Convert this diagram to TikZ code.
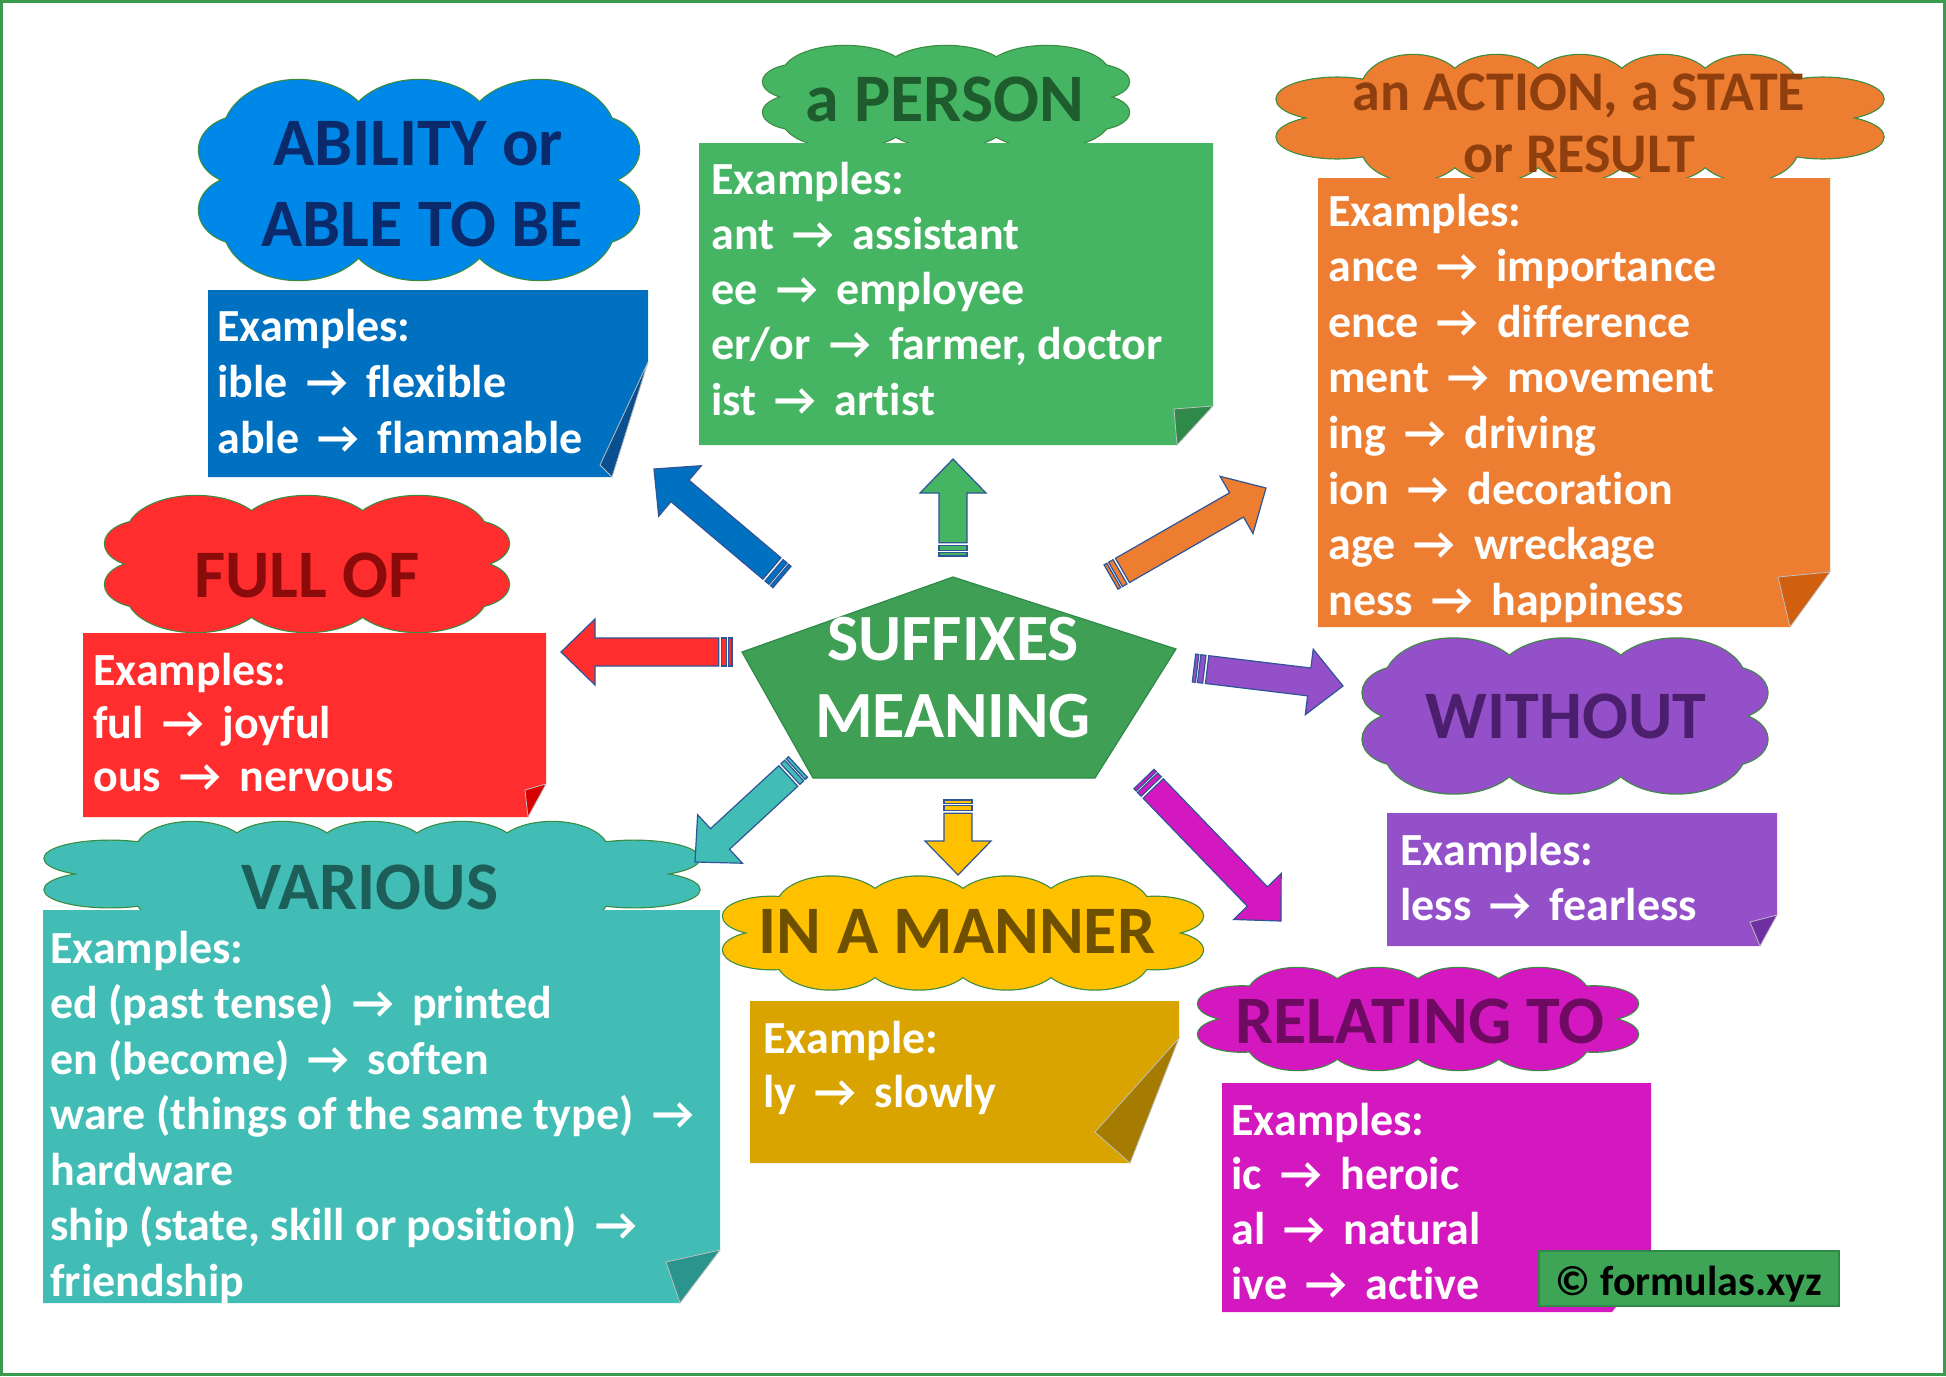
\documentclass[tikz,border=0pt]{standalone}
\usepackage{fontspec}
\setmainfont{Carlito}[Ligatures={NoCommon}]
\usetikzlibrary{calc}
\definecolor{frameG}{HTML}{3A9A4E}
\definecolor{cloudline}{HTML}{3A8C40}
\definecolor{arrowblue}{HTML}{2F5597}
\definecolor{cBlueCloud}{HTML}{0088E8}
\definecolor{tBlue}{HTML}{0B2A6B}
\definecolor{cBlueBox}{HTML}{0070C0}
\definecolor{fBlue}{HTML}{0A4F8F}
\definecolor{cGreen}{HTML}{45B563}
\definecolor{tGreen}{HTML}{1E5C2E}
\definecolor{fGreen}{HTML}{2F8A4A}
\definecolor{cOrange}{HTML}{ED7D31}
\definecolor{tOrange}{HTML}{8F3F0E}
\definecolor{fOrange}{HTML}{D0600F}
\definecolor{cRed}{HTML}{FF2D2D}
\definecolor{tRed}{HTML}{8B0A0A}
\definecolor{fRed}{HTML}{D80000}
\definecolor{cPurple}{HTML}{9450C8}
\definecolor{tPurple}{HTML}{4B1F6E}
\definecolor{fPurple}{HTML}{6E2FA0}
\definecolor{cTeal}{HTML}{42BDB5}
\definecolor{tTeal}{HTML}{1D5E59}
\definecolor{fTeal}{HTML}{2A958C}
\definecolor{cYellow}{HTML}{FFC000}
\definecolor{tYellow}{HTML}{6E5000}
\definecolor{cGold}{HTML}{D9A400}
\definecolor{fGold}{HTML}{A67C00}
\definecolor{cMagenta}{HTML}{D418BF}
\definecolor{tMagenta}{HTML}{6E0A62}
\definecolor{cPent}{HTML}{3F9F55}
\definecolor{cCopy}{HTML}{3EA556}
\newcommand\arr{\hspace{0.4em}→\hspace{0.4em}}
% ---- block arrow with striped tail ----
\newcommand\blockarrow[3]{%
  \coordinate (#1-a) at ($(#1)!1.6pt!(#2)$);
  \coordinate (#1-b) at ($(#1)!2.6pt!(#2)$);
  \coordinate (#1-c) at ($(#1)!5.2pt!(#2)$);
  \coordinate (#1-d) at ($(#1)!6.6pt!(#2)$);
  \coordinate (#1-h) at ($(#2)!17pt!(#1)$);
  \filldraw[arrowline, fill=#3]
    ($(#1-d)!7pt!90:(#2)$) -- ($(#1-h)!7pt!90:(#2)$) -- ($(#1-h)!16.5pt!90:(#2)$) -- (#2)
    -- ($(#1-h)!16.5pt!-90:(#2)$) -- ($(#1-h)!7pt!-90:(#2)$) -- ($(#1-d)!7pt!-90:(#2)$) -- cycle;
  \filldraw[arrowline, fill=#3] ($(#1)!7pt!90:(#2)$) -- ($(#1-a)!7pt!90:(#2)$)
    -- ($(#1-a)!7pt!-90:(#2)$) -- ($(#1)!7pt!-90:(#2)$) -- cycle;
  \filldraw[arrowline, fill=#3] ($(#1-b)!7pt!90:(#2)$) -- ($(#1-c)!7pt!90:(#2)$)
    -- ($(#1-c)!7pt!-90:(#2)$) -- ($(#1-b)!7pt!-90:(#2)$) -- cycle;
}
% ---- cloud made of overlapping ellipses ----
\newcommand\cloudparts[2]{%
  \path[#1] (0pt,0pt) ellipse [x radius=\cBx pt, y radius=\cBy pt];
  \foreach \i in {1,...,#2} {
    \pgfmathsetmacro\bx{-0.55*\cW + (\i-1)*\cS}
    \path[#1] (\bx pt, \cTy pt) ellipse [x radius=\cR pt, y radius=\cRy pt];
    \path[#1] (\bx pt, -\cTy pt) ellipse [x radius=\cR pt, y radius=\cRy pt];
  }
  \path[#1] (\cLx pt, \cLy pt) ellipse [x radius=\cLrx pt, y radius=\cLry pt];
  \path[#1] (\cLx pt, -\cLy pt) ellipse [x radius=\cLrx pt, y radius=\cLry pt];
  \path[#1] (-\cLx pt, \cLy pt) ellipse [x radius=\cLrx pt, y radius=\cLry pt];
  \path[#1] (-\cLx pt, -\cLy pt) ellipse [x radius=\cLrx pt, y radius=\cLry pt];
}
\newcommand\cloudblob[6]{% cx, cy (px), width, height (px), bumps, colour
  \begin{scope}[shift={(#1,#2)}]
    \pgfmathsetmacro\cW{#3/4}
    \pgfmathsetmacro\cH{#4/4}
    \pgfmathsetmacro\cS{1.1*\cW/(#5-1)}
    \pgfmathsetmacro\cR{0.62*\cS}
    \pgfmathsetmacro\cRy{0.55*\cH}
    \pgfmathsetmacro\cTy{0.45*\cH}
    \pgfmathsetmacro\cBx{0.85*\cW}
    \pgfmathsetmacro\cBy{0.62*\cH}
    \pgfmathsetmacro\cLx{0.8*\cW}
    \pgfmathsetmacro\cLy{0.3*\cH}
    \pgfmathsetmacro\cLrx{0.2*\cW}
    \pgfmathsetmacro\cLry{0.34*\cH}
    \cloudparts{draw=cloudline, line width=1.2pt}{#5}
    \cloudparts{fill=#6}{#5}
  \end{scope}
}
\tikzset{
  headtext/.style={font=\fontsize{34}{40}\selectfont\bfseries, anchor=base, inner sep=0pt},
  bodytext/.style={font=\fontsize{23}{27}\selectfont\bfseries, anchor=base west, inner sep=0pt, text=white},
  arrowline/.style={draw=arrowblue, line width=0.6pt, line join=miter},
  flap/.style={draw=white!75!black, line width=0.4pt},
}
\begin{document}
\begin{tikzpicture}[x=0.5pt,y=-0.5pt]
\useasboundingbox (0,0) rectangle (1946,1376);
\fill[white] (0,0) rectangle (1946,1376);
\draw[frameG, line width=1.2pt] (1.5,1.5) rectangle (1944.5,1374.5);

% ---------- clouds ----------
\cloudblob{419}{180}{440}{200}{3}{cBlueCloud}
\cloudblob{946}{97}{366}{102}{3}{cGreen}
\cloudblob{1580}{118}{607}{126}{5}{cOrange}
\cloudblob{307}{564}{404}{136}{3}{cRed}
\cloudblob{1565}{716}{405}{155}{3}{cPurple}
\cloudblob{372}{874}{655}{104}{5}{cTeal}
\cloudblob{963}{933}{480}{113}{4}{cYellow}
\cloudblob{1418}{1019}{440}{102}{4}{cMagenta}

% ---------- boxes ----------
\fill[cBlueBox] (208,290) -- (648,290) -- (648,362) -- (612,477) -- (208,477) -- cycle;
\filldraw[fill=fBlue, flap] (648,362) -- (600,465) -- (612,477) -- cycle;
\fill[cGreen] (699,143) -- (1213,143) -- (1213,406) -- (1177,445) -- (699,445) -- cycle;
\filldraw[fill=fGreen, flap] (1213,406) -- (1174,409) -- (1177,445) -- cycle;
\fill[cOrange] (1318,178) -- (1830,178) -- (1830,572) -- (1790,627) -- (1318,627) -- cycle;
\filldraw[fill=fOrange, flap] (1830,572) -- (1778,577) -- (1790,627) -- cycle;
\fill[cRed] (83,633) -- (546,633) -- (546,784) -- (528,817) -- (83,817) -- cycle;
\filldraw[fill=fRed, flap] (546,784) -- (525,790) -- (528,817) -- cycle;
\fill[cTeal] (43,910) -- (720,910) -- (720,1250) -- (680,1303) -- (43,1303) -- cycle;
\filldraw[fill=fTeal, flap] (720,1250) -- (666,1262) -- (680,1303) -- cycle;
\fill[cPurple] (1387,813) -- (1777,813) -- (1777,915) -- (1760,946) -- (1387,946) -- cycle;
\filldraw[fill=fPurple, flap] (1777,915) -- (1750,922) -- (1760,946) -- cycle;
\fill[cMagenta] (1222,1083) -- (1651,1083) -- (1651,1262) -- (1612,1312) -- (1222,1312) -- cycle;
\fill[cGold] (750,1001) -- (1179,1001) -- (1179,1038) -- (1130,1163) -- (750,1163) -- cycle;
\filldraw[fill=fGold, flap] (1179,1038) -- (1095,1132) -- (1130,1163) -- cycle;

% ---------- cloud headings ----------
\node[headtext, text=tBlue] (blueh1) at (418,165) {ABILITY or};
\node[headtext, text=tBlue] (blueh2) at (422,246) {ABLE TO BE};
\node[headtext, text=tGreen] (greenh) at (945,121) {a PERSON};
\node[headtext, text=tOrange, font=\fontsize{28}{32}\selectfont\bfseries] (orangeh1) at (1579,110) {an ACTION, a STATE};
\node[headtext, text=tOrange, font=\fontsize{28}{32}\selectfont\bfseries] (orangeh2) at (1579,172) {or RESULT};
\node[headtext, text=tRed] (redh) at (307,597) {FULL OF};
\node[headtext, text=tPurple] (purpleh) at (1566,738) {WITHOUT};
\node[headtext, text=tTeal] (tealh) at (370,909) {VARIOUS};
\node[headtext, text=tYellow] (yellowh) at (957,953) {IN A MANNER};
\node[headtext, text=tMagenta] (magentah) at (1420,1043) {RELATING TO};

% ---------- box texts ----------
\foreach \t [count=\i from 0] in {Examples:, {ible\arr flexible}, {able\arr flammable}}
  \node[bodytext] (bl\i) at (217,{341+\i*56}) {\t};
\foreach \t [count=\i from 0] in {Examples:, {ant\arr assistant}, {ee\arr employee}, {er/or\arr farmer, doctor}, {ist\arr artist}}
  \node[bodytext] (gl\i) at (711,{194+\i*55.3}) {\t};
\foreach \t [count=\i from 0] in {Examples:, {ance\arr importance}, {ence\arr difference}, {ment\arr movement}, {ing\arr driving}, {ion\arr decoration}, {age\arr wreckage}, {ness\arr happiness}}
  \node[bodytext] (ol\i) at (1328,{226+\i*55.6}) {\t};
\foreach \t [count=\i from 0] in {Examples:, {ful\arr joyful}, {ous\arr nervous}}
  \node[bodytext] (rl\i) at (93,{685+\i*53}) {\t};
\foreach \t [count=\i from 0] in {Examples:, {ed (past tense)\arr printed}, {en (become)\arr soften}, {ware (things of the same type)\arr}, hardware, {ship (state, skill or position)\arr}, friendship}
  \node[bodytext] (tl\i) at (50,{963+\i*55.5}) {\t};
\foreach \t [count=\i from 0] in {Examples:, {less\arr fearless}}
  \node[bodytext] (pl\i) at (1400,{865+\i*55}) {\t};
\foreach \t [count=\i from 0] in {Example:, {ly\arr slowly}}
  \node[bodytext] (yl\i) at (763,{1053+\i*54}) {\t};
\foreach \t [count=\i from 0] in {Examples:, {ic\arr heroic}, {al\arr natural}, {ive\arr active}}
  \node[bodytext] (ml\i) at (1231,{1135+\i*54.7}) {\t};

% ---------- centre pentagon ----------
\coordinate (p1) at (953,577);
\coordinate (p2) at (1176,649);
\coordinate (p3) at (1095,778);
\coordinate (p4) at (813,778);
\coordinate (p5) at (742,652);
\filldraw[fill=cPent, draw=fGreen, line width=0.6pt] (p1) -- (p2) -- (p3) -- (p4) -- (p5) -- cycle;
\node[headtext, text=white, font=\fontsize{33}{38}\selectfont\bfseries] (centre1) at (953,660) {SUFFIXES};
\node[headtext, text=white, font=\fontsize{33}{38}\selectfont\bfseries] (centre2) at (953,737) {MEANING};

% ---------- block arrows ----------
\coordinate (ga) at (953,556); \coordinate (gat) at (953,459);
\coordinate (ba) at (782,577); \coordinate (bat) at (654,469);
\coordinate (oa) at (1111,577); \coordinate (oat) at (1266,488);
\coordinate (ra) at (732,652); \coordinate (rat) at (561,652);
\coordinate (pa) at (1194,668); \coordinate (pat) at (1343,686);
\coordinate (ta) at (798,767); \coordinate (tat) at (695,862);
\coordinate (ya) at (958,800); \coordinate (yat) at (958,875);
\coordinate (ma) at (1144,779); \coordinate (mat) at (1281,921);
\blockarrow{ga}{gat}{cGreen}
\blockarrow{ba}{bat}{cBlueBox}
\blockarrow{oa}{oat}{cOrange}
\blockarrow{ra}{rat}{cRed}
\blockarrow{pa}{pat}{cPurple}
\blockarrow{ta}{tat}{cTeal}
\blockarrow{ya}{yat}{cYellow}
\blockarrow{ma}{mat}{cMagenta}

% ---------- copyright ----------
\node[draw=fGreen, fill=cCopy, line width=0.8pt, minimum width=150pt, minimum height=27.5pt, inner sep=0pt] (copybox) at (1689,1278.5) {};
\node[font=\fontsize{21}{25}\selectfont\bfseries, text=black, anchor=base, inner sep=0pt] (copytext) at (1689,1295) {© formulas.xyz};
\end{tikzpicture}
\end{document}
